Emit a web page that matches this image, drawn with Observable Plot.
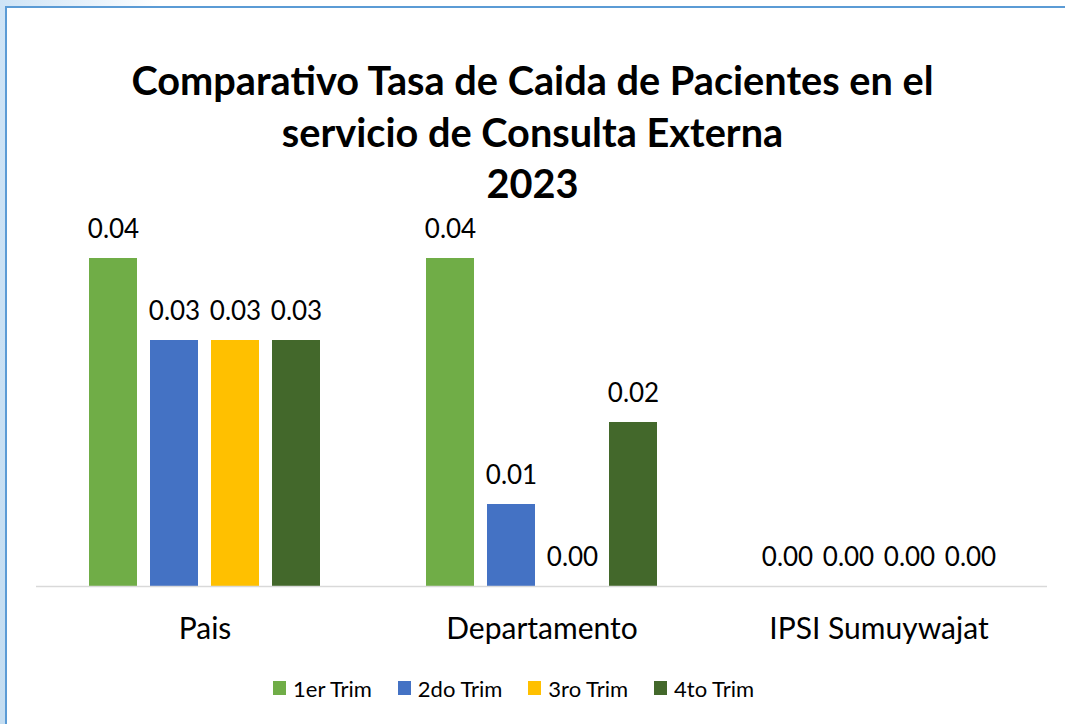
<!DOCTYPE html>
<html><head><meta charset="utf-8">
<script src="https://cdn.jsdelivr.net/npm/d3@7"></script>
<script src="https://cdn.jsdelivr.net/npm/@observablehq/plot@0.6"></script>
<style>
body{margin:0;background:#fff;font-family:Lato,"Open Sans",sans-serif;}
#frame{position:absolute;left:0;top:0;width:1065px;height:724px;overflow:hidden;background:#fff;}
.edgeL{position:absolute;left:0;top:0;width:5px;height:724px;background:linear-gradient(#cfe4f6,#c4ddf1);}
.edgeT{position:absolute;left:0;top:0;width:1065px;height:6px;background:linear-gradient(90deg,#cfe4f6 0px,#e8f2fb 90px,#ffffff 160px);}
.lineL{position:absolute;left:5px;top:6px;width:2px;height:718px;background:#5b9bd5;}
.lineT{position:absolute;left:5px;top:6px;width:1060px;height:2px;background:#5b9bd5;}
#title{position:absolute;left:0;top:54px;width:1065px;text-align:center;font-weight:700;font-size:39.7px;line-height:51.5px;color:#000;}
#chart{position:absolute;left:0;top:200px;}
#legend{position:absolute;left:273px;top:675px;display:flex;align-items:center;font-size:22px;color:#000;height:26px;}
.item{display:flex;align-items:center;margin-right:26px;}
.sw{width:13px;height:14px;margin-right:7px;}
</style>
</head><body>
<div id="frame">
  <div class="edgeL"></div><div class="edgeT"></div>
  <div class="lineL"></div><div class="lineT"></div>
  <div id="title">Comparativo Tasa de Caida de Pacientes en el<br>servicio de Consulta Externa<br>2023</div>
  <div id="chart"></div>
  <div id="legend"></div>
</div>
<script>
const categories = ["Pais", "Departamento", "IPSI Sumuywajat"];
const series = ["1er Trim", "2do Trim", "3ro Trim", "4to Trim"];
const trim1 = [0.04, 0.04, 0.00];
const trim2 = [0.03, 0.01, 0.00];
const trim3 = [0.03, 0.00, 0.00];
const trim4 = [0.03, 0.02, 0.00];
const colors = ["#70AD47", "#4472C4", "#FFC000", "#43682B"];

const valuesBySeries = [trim1, trim2, trim3, trim4];
const data = [];
categories.forEach((c, i) => {
  series.forEach((s, j) => data.push({cat: c, s, v: valuesBySeries[j][i]}));
});

const chart = Plot.plot({
  width: 1065,
  height: 460,
  marginLeft: 35,
  marginRight: 17,
  marginTop: 58,
  marginBottom: 74,
  style: {fontFamily: "Lato, 'Open Sans', sans-serif", fontSize: "30px", color: "#000", background: "transparent"},
  fx: {domain: categories, padding: 0, label: null, axis: "bottom", tickSize: 0, tickPadding: 31},
  x: {domain: series, paddingInner: 0.217, paddingOuter: 0.865, axis: null},
  y: {domain: [0, 0.04], axis: null},
  color: {domain: series, range: colors},
  marks: [
    Plot.barY(data, {fx: "cat", x: "s", y: "v", fill: "s"}),
    Plot.ruleY([0], {stroke: "#d9d9d9", strokeWidth: 1.5}),
    Plot.text(data, {fx: "cat", x: "s", y: "v", text: d => d.v.toFixed(2), dy: -29, fontSize: 26, fill: "#000"})
  ]
});
document.getElementById("chart").appendChild(chart);

const legend = document.getElementById("legend");
series.forEach((s, j) => {
  const it = document.createElement("div");
  it.className = "item";
  const sw = document.createElement("div");
  sw.className = "sw";
  sw.style.background = colors[j];
  const t = document.createElement("span");
  t.textContent = s;
  it.appendChild(sw); it.appendChild(t);
  legend.appendChild(it);
});
</script>
</body></html>
